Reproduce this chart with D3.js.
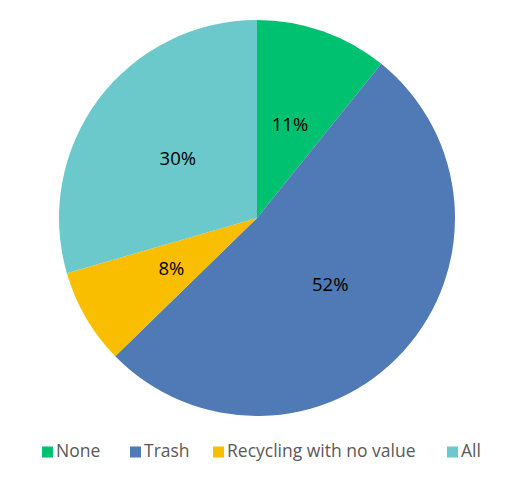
<!DOCTYPE html>
<html><head><meta charset="utf-8">
<script src="https://cdn.jsdelivr.net/npm/d3@7"></script>
<style>body{margin:0;background:#fff}svg{display:block}</style>
</head><body>
<script>
const categories = ["None", "Trash", "Recycling with no value", "All"];
const values = [10.8, 51.9, 7.8, 29.5];
const labels = ["11%", "52%", "8%", "30%"];
const colors = ["#00C170", "#4F7AB5", "#F9BE00", "#6BC9CB"];

const W = 512, H = 482, cx = 257, cy = 218, R = 198;
const svg = d3.select("body").append("svg").attr("width", W).attr("height", H);
const data = categories.map((c, i) => ({c, v: values[i], l: labels[i], col: colors[i]}));
const pie = d3.pie().value(d => d.v).sort(null);
const arc = d3.arc().innerRadius(0).outerRadius(R);
const g = svg.append("g").attr("transform", `translate(${cx},${cy})`);
const arcs = pie(data);
g.selectAll("path").data(arcs).enter().append("path")
  .attr("d", arc).attr("fill", d => d.data.col);
g.selectAll("text").data(arcs).enter().append("text")
  .attr("transform", d => `translate(${arc.centroid(d)})`)
  .attr("text-anchor", "middle").attr("dy", "0.36em")
  .style("font-family", "'Open Sans', sans-serif").style("font-size", "18.5px")
  .attr("fill", "#000").text(d => d.data.l);

const legX = [42, 130, 213, 447];
const leg = svg.append("g");
data.forEach((d, i) => {
  leg.append("rect").attr("x", legX[i]).attr("y", 446.5).attr("width", 11).attr("height", 11).attr("fill", d.col);
  leg.append("text").attr("x", legX[i] + 14).attr("y", 457)
    .style("font-family", "'Open Sans', sans-serif").style("font-size", "17.5px")
    .attr("fill", "#595959").text(d.c);
});
</script>
</body></html>
